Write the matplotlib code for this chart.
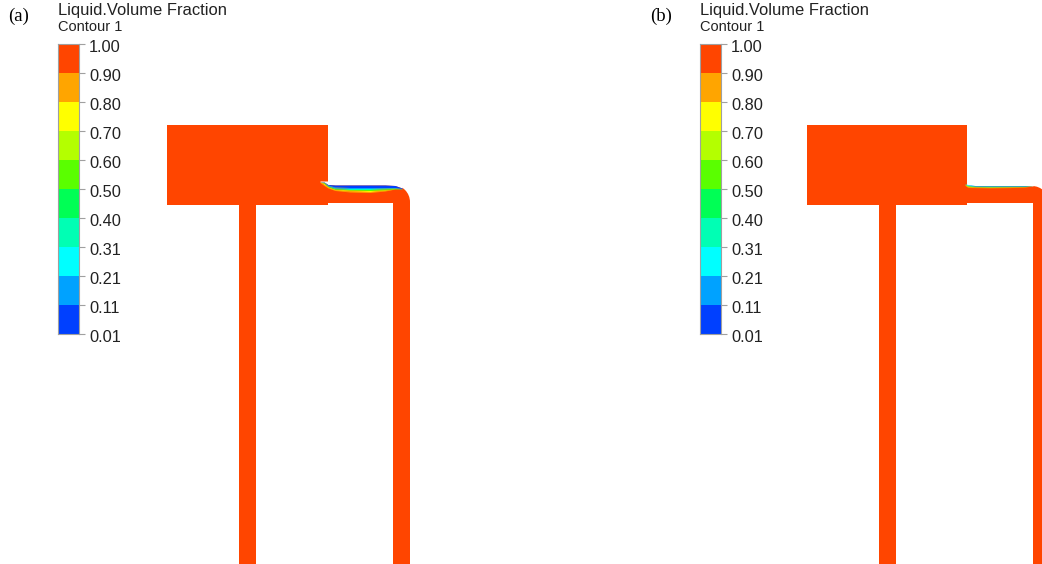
import matplotlib

matplotlib.use("Agg")
import numpy as np
from matplotlib import patches
from matplotlib import pyplot as plt
from matplotlib.colors import ListedColormap
from matplotlib.transforms import ScaledTranslation

WIDTH = 1042
HEIGHT = 564
LIQUID = "#ff4500"

tick_labels = ["1.00", "0.90", "0.80", "0.70", "0.60", "0.50", "0.40", "0.31", "0.21", "0.11", "0.01"]
band_colors = ["#0040ff", "#00a2ff", "#00ffff", "#00ffb4", "#00ff55",
               "#5aff00", "#b4ff00", "#ffff00", "#ffa500", "#ff4500"]

# free surface in the horizontal pipe: x stations and band boundaries, top to bottom
surface_a_x = [320, 324, 328, 335, 350, 370, 385, 395, 402]
surface_a = {
    "white": [182, 182, 184.5, 185, 185, 185, 185, 185.5, 188],
    "#0040ff": [182, 182, 185, 187, 187.5, 187.5, 187.5, 187.5, 188.5],
    "#00a2ff": [182, 182.5, 186, 188, 188.5, 188.5, 188.2, 188, 188.8],
    "#00ffb4": [182, 183, 186.5, 188.8, 189.5, 189.5, 189, 188.5, 189],
    "#5aff00": [182, 183.5, 187, 189.5, 190.2, 190.5, 190, 189, 189],
    "#ffff00": [182, 184.5, 187.5, 190, 191, 191.5, 190.5, 189, 189],
    "#ffa500": [182.5, 185.5, 188, 190.5, 192, 192.5, 191, 189, 189],
}
surface_b_x = [965, 968, 975, 990, 1010, 1025, 1033]
surface_b = {
    "white": [184, 184.5, 185.5, 185.5, 185.5, 185.5, 186],
    "#00a2ff": [184, 185, 186.2, 186.2, 186.2, 186.2, 186],
    "#00ffb4": [184.5, 186, 186.8, 187, 186.8, 186.5, 186],
    "#b4ff00": [185, 187, 187.2, 187.5, 187.2, 186.8, 186],
    "#ffa500": [185.5, 187.5, 187.6, 187.8, 187.6, 187, 186],
}


def add_colorbar(fig, left: float, panel: str, title_x: float) -> None:
    axis = fig.add_axes([left / WIDTH, 1 - 333.5 / HEIGHT, 21 / WIDTH, 289.5 / HEIGHT])
    values = np.arange(len(band_colors)).reshape(-1, 1)
    axis.pcolormesh(values, cmap=ListedColormap(band_colors))
    axis.set_xticks([])
    axis.yaxis.tick_right()
    axis.set_yticks(range(len(tick_labels)), tick_labels[::-1])
    axis.tick_params(axis="y", length=4, width=0.8, color="#a0a0a0", pad=4, labelsize=11.8,
                     labelcolor="#222222")
    shift = ScaledTranslation(-1 / 100, -2 / 100, fig.dpi_scale_trans)
    for label in axis.get_yticklabels():
        label.set_family("Liberation Sans")
        label.set_transform(label.get_transform() + shift)
    for spine in axis.spines.values():
        spine.set_color("#a0a0a0")
        spine.set_linewidth(0.8)
    fig.text(title_x / WIDTH, 1 - 10 / HEIGHT, "Liquid.Volume Fraction", family="Liberation Sans",
             fontsize=11.9, color="#222222", va="center")
    fig.text(title_x / WIDTH, 1 - 27 / HEIGHT, "Contour 1", family="Liberation Sans",
             fontsize=10.5, color="#222222", va="center")
    fig.text((title_x - 50) / WIDTH, 1 - 16 / HEIGHT, panel, family="Liberation Serif",
             fontsize=13.5, color="black", va="center")


def draw_geometry(axis, dx, tank_width, pipe_top, bend_x, bend_y) -> None:
    axis.add_patch(patches.Rectangle((167 + dx, 125), tank_width, 79.5, color=LIQUID, lw=0))
    axis.add_patch(patches.Rectangle((239 + dx, 204), 17, HEIGHT - 204, color=LIQUID, lw=0))
    axis.add_patch(patches.Rectangle((326 + dx, pipe_top), bend_x - 326 - dx, 203 - pipe_top, color=LIQUID, lw=0))
    axis.add_patch(patches.Wedge((bend_x, bend_y), 17, 270, 360, color=LIQUID, lw=0))
    axis.add_patch(patches.Rectangle((393 + dx, bend_y), 17, HEIGHT - bend_y, color=LIQUID, lw=0))
    axis.add_patch(patches.Rectangle((393 + dx, bend_y - 2), bend_x - 393 - dx + 1, 3, color=LIQUID, lw=0))
    # faint mesh dots along the pipe underside
    axis.plot([330 + dx, 392 + dx], [202.6, 202.6], color="white", lw=0.7, ls=(0, (1.5, 3)))


def draw_surface(axis, xs: list[float], bands: dict[str, list[float]], top: float) -> None:
    previous = [top] * len(xs)
    for color, lower in bands.items():
        axis.fill_between(xs, previous, lower, color=color, lw=0)
        previous = lower


fig = plt.figure(figsize=(WIDTH / 100, HEIGHT / 100), dpi=100, facecolor="white")
canvas = fig.add_axes([0, 0, 1, 1])
canvas.set_xlim(0, WIDTH)
canvas.set_ylim(HEIGHT, 0)
canvas.axis("off")

draw_geometry(canvas, 0, 161, 185, 393, 202)
draw_geometry(canvas, 640, 160, 186, 1032, 203)
draw_surface(canvas, surface_a_x, surface_a, 181)
draw_surface(canvas, surface_b_x, surface_b, 184)

add_colorbar(fig, 58, "(a)", 58)
add_colorbar(fig, 700, "(b)", 700)

fig.savefig("out.png", dpi=100, facecolor="white")
plt.close(fig)
